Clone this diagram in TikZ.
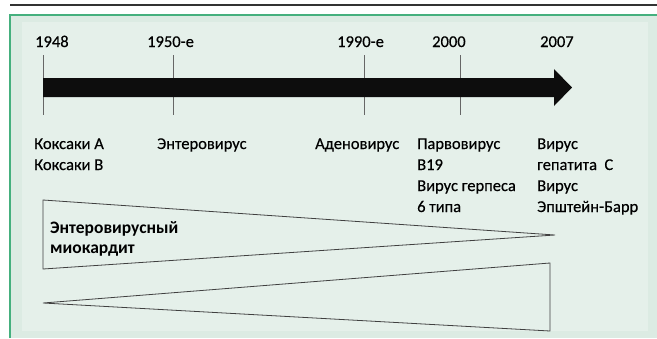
\documentclass[tikz,border=0pt]{standalone}
\usepackage{fontspec}
\setmainfont{Carlito}[UprightFeatures={FakeBold=0.4}]
\definecolor{frameg}{HTML}{45B07E}
\definecolor{outerg}{HTML}{DCEBE3}
\definecolor{innerg}{HTML}{E5F0EA}
\begin{document}
\begin{tikzpicture}[x=1pt,y=-1pt,
	yr/.style={anchor=base west,inner sep=0pt,font=\fontsize{16.5}{21}\selectfont},
	vir/.style={anchor=base west,inner sep=0pt,align=left,font=\fontsize{16.5}{21}\selectfont},
	tickline/.style={black!60,line width=0.7pt},
	wedge/.style={black!75,line width=0.8pt}]
	\useasboundingbox (0,0) rectangle (657,338);
	\fill[white] (0,0) rectangle (657,338);
	\draw[line width=1.4pt,black!80] (10,5)--(657,5);
	\fill[outerg] (10,15) rectangle (657,338);
	\fill[innerg] (22,22) rectangle (648,331);
	\draw[frameg,line width=1.3pt] (10,338)--(10,15)--(657,15);
	% ticks
	\foreach \t/\x in {a/43,b/173,c/364,d/460}{
		\coordinate (t\t) at (\x,55);
		\draw[tickline] (t\t)--++(0,60);
	}
	% arrow
	\fill[black!95] (43,78)--(554,78)--(554,69)--(572,87.5)--(554,106)--(554,97)--(43,97)--cycle;
	% years
	\node[yr] (y1948) at (35,47) {1948};
	\node[yr] (y1950) at (147,47) {1950-е};
	\node[yr] (y1990) at (337,47) {1990-е};
	\node[yr] (y2000) at (432,47) {2000};
	\node[yr] (y2007) at (540,47) {2007};
	% viruses (base = last line)
	\node[vir] (vcox) at (34,170) {Коксаки A\\Коксаки B};
	\node[vir] (vent) at (157,149) {Энтеровирус};
	\node[vir] (vade) at (315,149) {Аденовирус};
	\node[vir] (vpar) at (417,212) {Парвовирус\\B19\\Вирус герпеса\\6 типа};
	\node[vir] (vhep) at (537,212) {Вирус\\гепатита~ С\\Вирус\\Эпштейн-Барр};
	% wedges
	\draw[wedge] (43,200)--(555,235)--(43,269)--cycle;
	\draw[wedge] (43,303)--(550,263)--(550,331)--cycle;
	\node[vir,font=\bfseries\fontsize{17.5}{20}\selectfont] (myo) at (50,253) {Энтеровирусный\\миокардит};
\end{tikzpicture}
\end{document}
